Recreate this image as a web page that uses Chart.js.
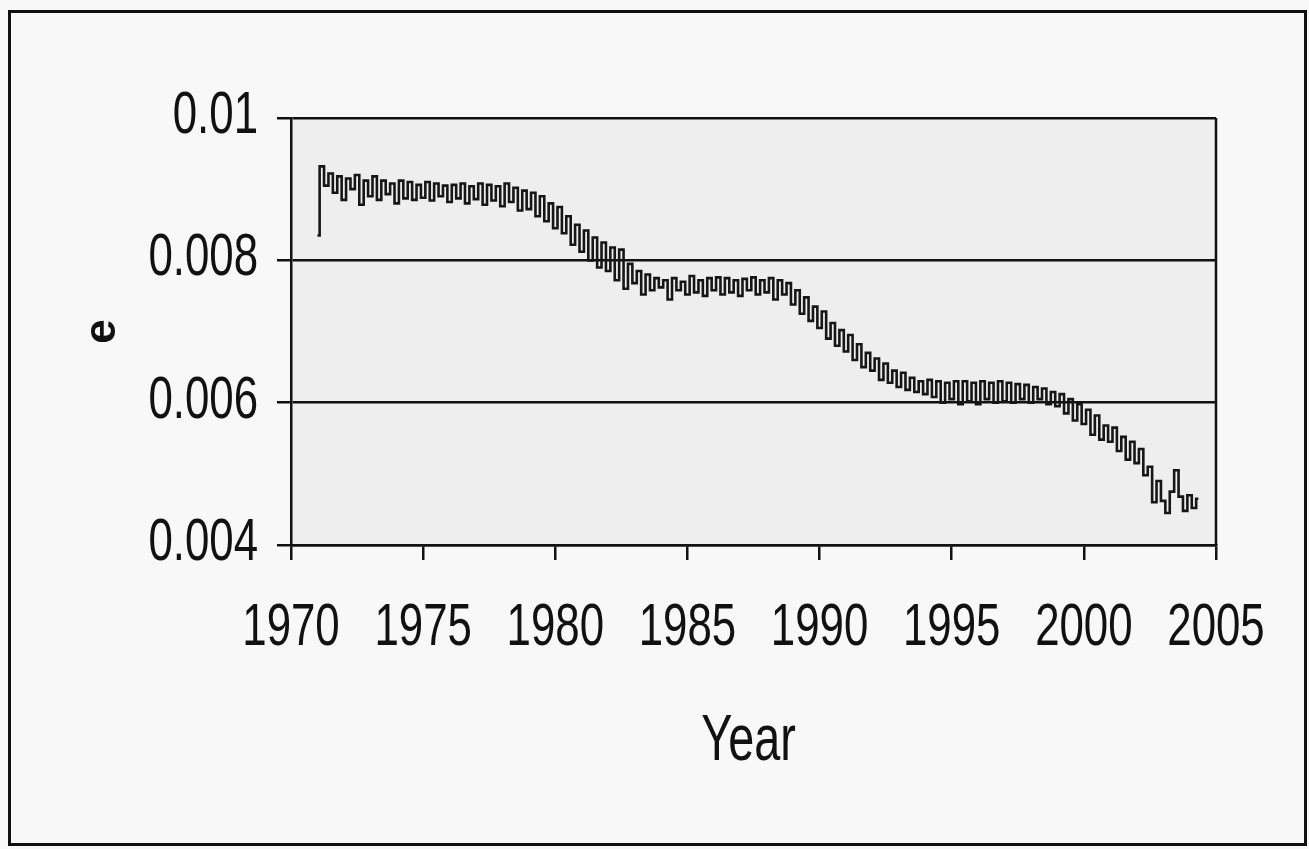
<!DOCTYPE html>
<html>
<head>
<meta charset="utf-8">
<script src="https://cdn.jsdelivr.net/npm/chart.js@4.4.1/dist/chart.umd.min.js"></script>
<style>
  html, body { margin: 0; padding: 0; background: #f8f8f8; }
  #frame { position: absolute; left: 8px; top: 10px; width: 1299px; height: 836px; border: 3px solid #111; box-sizing: border-box; }
  #wrap { position: absolute; left: 0; top: 0; width: 1309px; height: 849px; }
</style>
</head>
<body>
<div id="frame"></div>
<div id="wrap"><canvas id="c" width="1309" height="849"></canvas></div>
<script>
// ---- data: e values, six readings per year (Jan, Mar, May, Jul, Sep, Nov) ----
const e1971_1975 = [
  0.00835, 0.00932, 0.00905, 0.00922, 0.00895, 0.00918,
  0.00885, 0.00915, 0.00900, 0.00920, 0.00878, 0.00912,
  0.00890, 0.00918, 0.00885, 0.00912, 0.00893, 0.00908,
  0.00880, 0.00912, 0.00887, 0.00910, 0.00885, 0.00906,
  0.00888, 0.00910, 0.00884, 0.00908, 0.00890, 0.00905
];
const e1976_1980 = [
  0.00882, 0.00906, 0.00887, 0.00908, 0.00880, 0.00904,
  0.00886, 0.00908, 0.00878, 0.00906, 0.00884, 0.00904,
  0.00876, 0.00908, 0.00882, 0.00902, 0.00870, 0.00898,
  0.00872, 0.00895, 0.00862, 0.00890, 0.00855, 0.00880,
  0.00845, 0.00875, 0.00838, 0.00862, 0.00822, 0.00850
];
const e1981_1985 = [
  0.00812, 0.00842, 0.00800, 0.00832, 0.00790, 0.00825,
  0.00785, 0.00818, 0.00772, 0.00815, 0.00760, 0.00795,
  0.00768, 0.00785, 0.00752, 0.00780, 0.00758, 0.00775,
  0.00762, 0.00772, 0.00745, 0.00775, 0.00758, 0.00770,
  0.00752, 0.00778, 0.00755, 0.00772, 0.00750, 0.00775
];
const e1986_1990 = [
  0.00758, 0.00776, 0.00752, 0.00775, 0.00755, 0.00772,
  0.00750, 0.00774, 0.00758, 0.00776, 0.00752, 0.00772,
  0.00755, 0.00775, 0.00745, 0.00772, 0.00752, 0.00768,
  0.00738, 0.00758, 0.00725, 0.00748, 0.00715, 0.00735,
  0.00705, 0.00728, 0.00690, 0.00712, 0.00680, 0.00702
];
const e1991_1995 = [
  0.00672, 0.00695, 0.00660, 0.00682, 0.00650, 0.00670,
  0.00645, 0.00662, 0.00632, 0.00655, 0.00628, 0.00645,
  0.00622, 0.00642, 0.00618, 0.00635, 0.00615, 0.00630,
  0.00612, 0.00632, 0.00608, 0.00630, 0.00600, 0.00628,
  0.00605, 0.00630, 0.00598, 0.00630, 0.00602, 0.00628
];
const e1996_2000 = [
  0.00598, 0.00630, 0.00605, 0.00628, 0.00600, 0.00630,
  0.00602, 0.00628, 0.00600, 0.00626, 0.00605, 0.00625,
  0.00600, 0.00622, 0.00605, 0.00620, 0.00598, 0.00615,
  0.00595, 0.00612, 0.00585, 0.00605, 0.00575, 0.00598,
  0.00570, 0.00590, 0.00555, 0.00582, 0.00548, 0.00568
];
const e2001_2004 = [
  0.00545, 0.00565, 0.00532, 0.00552, 0.00520, 0.00545,
  0.00515, 0.00535, 0.00498, 0.00510, 0.00460, 0.00490,
  0.00462, 0.00445, 0.00475, 0.00505, 0.00468, 0.00448,
  0.00470, 0.00452, 0.00465
];
const firstYear = 1971;
const readingsPerYear = 6;
const xTickLabels = ['1970', '1975', '1980', '1985', '1990', '1995', '2000', '2005'];
const yTickLabels = ['0.004', '0.006', '0.008', '0.01'];
const xTitle = 'Year';
const yTitle = 'e';

const allValues = [].concat(e1971_1975, e1976_1980, e1981_1985, e1986_1990, e1991_1995, e1996_2000, e2001_2004);
const points = allValues.map((v, i) => ({ x: firstYear + i / readingsPerYear, y: v }));

const FONT = "'Liberation Sans', Arial, sans-serif";
const INK = '#111';
const PLOT_LEFT = 291, PLOT_BOTTOM = 545, PAD_LEFT = 70;
const NARROW = 0.73; // condensed look of the original labels

const plotDeco = {
  id: 'plotDeco',
  beforeDraw(chart) {
    const { ctx, chartArea: a } = chart;
    ctx.save();
    ctx.fillStyle = '#eeeeee';
    ctx.fillRect(a.left, a.top, a.right - a.left, a.bottom - a.top);
    ctx.restore();
  },
  afterDraw(chart) {
    const { ctx, chartArea: a, scales: { x, y } } = chart;
    ctx.save();
    // right edge of the plot area
    ctx.strokeStyle = INK;
    ctx.lineWidth = 2.5;
    ctx.beginPath();
    ctx.moveTo(a.right, a.top);
    ctx.lineTo(a.right, a.bottom);
    ctx.stroke();

    ctx.fillStyle = INK;
    ctx.textBaseline = 'alphabetic';
    // x tick labels (condensed)
    ctx.font = `60px ${FONT}`;
    ctx.textAlign = 'center';
    xTickLabels.forEach(t => {
      const px = x.getPixelForValue(Number(t));
      ctx.save();
      ctx.translate(px, a.bottom + 100);
      ctx.scale(NARROW, 1);
      ctx.fillText(t, 0, 0);
      ctx.restore();
    });
    // y tick labels (condensed)
    ctx.font = `60px ${FONT}`;
    ctx.textAlign = 'right';
    yTickLabels.forEach(t => {
      const py = y.getPixelForValue(Number(t));
      ctx.save();
      ctx.translate(a.left - 33, py + 15);
      ctx.scale(NARROW, 1);
      ctx.fillText(t, 0, 0);
      ctx.restore();
    });
    // x axis title
    ctx.font = `64px ${FONT}`;
    ctx.textAlign = 'center';
    ctx.save();
    ctx.translate((a.left + a.right) / 2 - 5, a.bottom + 215);
    ctx.scale(NARROW, 1);
    ctx.fillText(xTitle, 0, 0);
    ctx.restore();
    ctx.restore();
  }
};

new Chart(document.getElementById('c'), {
  type: 'line',
  data: {
    datasets: [{
      data: points,
      borderColor: '#161616',
      borderWidth: 2.6,
      pointRadius: 0,
      stepped: 'middle',
      fill: false
    }]
  },
  options: {
    responsive: false,
    animation: false,
    layout: { padding: { left: PAD_LEFT, top: 118, right: 93, bottom: 0 } },
    plugins: { legend: { display: false }, tooltip: { enabled: false } },
    scales: {
      x: {
        type: 'linear',
        min: 1970, max: 2005,
        afterFit(scale) { scale.height = 849 - PLOT_BOTTOM; },
        afterBuildTicks(scale) { scale.ticks = xTickLabels.map(t => ({ value: Number(t) })); },
        ticks: { display: false, autoSkip: false },
        grid: { drawOnChartArea: false, drawTicks: true, tickLength: 15, color: INK, lineWidth: 2.5 },
        border: { display: true, color: INK, width: 2.5 },
        title: { display: false }
      },
      y: {
        type: 'linear',
        min: 0.004, max: 0.01,
        afterFit(scale) { scale.width = PLOT_LEFT - PAD_LEFT; },
        afterBuildTicks(scale) { scale.ticks = yTickLabels.map(t => ({ value: Number(t) })); },
        ticks: { display: false, autoSkip: false },
        grid: { drawOnChartArea: true, drawTicks: true, tickLength: 14, color: INK, lineWidth: 2.5 },
        border: { display: true, color: INK, width: 2.5 },
        title: {
          display: true, text: yTitle, color: INK,
          font: { family: FONT, size: 44, weight: 'bold' },
          padding: { top: 6, bottom: 0 }
        }
      }
    }
  },
  plugins: [plotDeco]
});
</script>
</body>
</html>
